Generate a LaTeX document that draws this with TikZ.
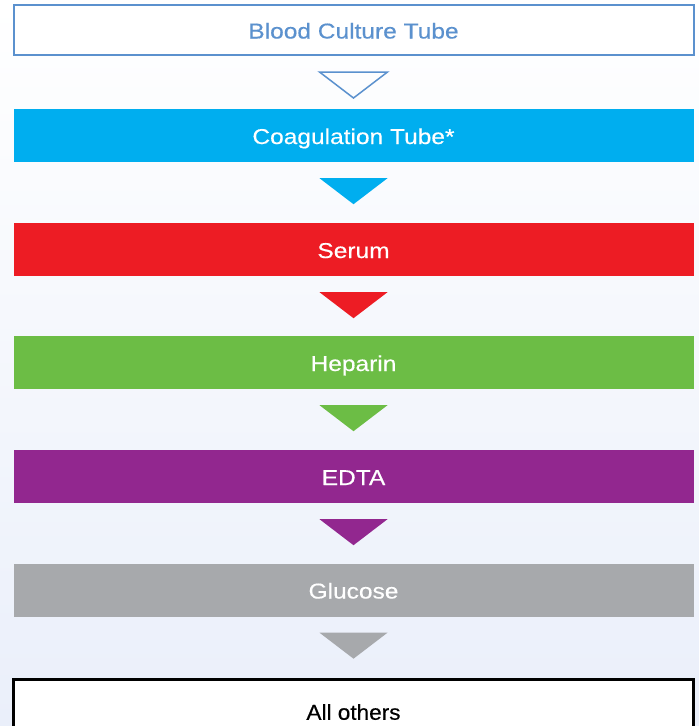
\documentclass[tikz,border=0pt]{standalone}
\usepackage{fontspec}
\setmainfont{Liberation Sans}
\newfontfamily\tubefont[FakeStretch=1.14,FakeBold=0.4]{Liberation Sans}
\newfontfamily\otherfont[FakeStretch=1.05,FakeBold=0.4]{Liberation Sans}
\usetikzlibrary{calc}
\definecolor{bgbot}{RGB}{234,239,250}
\definecolor{bcblue}{RGB}{91,145,206}
\definecolor{tcyan}{RGB}{0,174,239}
\definecolor{tred}{RGB}{237,28,36}
\definecolor{tgreen}{RGB}{108,189,69}
\definecolor{tpurple}{RGB}{146,39,143}
\definecolor{tgray}{RGB}{167,169,172}
\tikzset{
  tube/.style={minimum width=680pt, minimum height=53pt, inner sep=0pt, text=white,
    text height=17pt, text depth=0pt,
    font=\tubefont\fontsize{21.5}{25}\selectfont},
}
\newcommand{\downtri}[3]{%
  \path[#2] ($(#1.south)+(-34,#3)$) -- ++(68,0) -- ++(-34,26) -- cycle;}
\begin{document}
\begin{tikzpicture}[x=1pt,y=-1pt]
\useasboundingbox (0,0) rectangle (699,726);
\shade[top color=white, bottom color=bgbot] (0,0) rectangle (699,726);
\node[tube, draw=bcblue, line width=2pt, fill=white, text=bcblue, minimum height=50pt] (blood) at (353.5,30) {Blood Culture Tube};
\node[tube, fill=tcyan] (coag) at (353.5,135.5) {Coagulation Tube*};
\node[tube, fill=tred] (serum) at (353.5,249.5) {Serum};
\node[tube, fill=tgreen] (hep) at (353.5,362.5) {Heparin};
\node[tube, fill=tpurple] (edta) at (353.5,476.5) {EDTA};
\node[tube, fill=tgray] (gluc) at (353.5,590) {Glucose};
\node[tube, draw=black, line width=2.5pt, fill=white, text=black, minimum height=64pt, anchor=north,
  font=\otherfont\fontsize{21.5}{25}\selectfont] (others) at (353.5,678) {All others};
\downtri{blood}{draw=bcblue, line width=1.5pt, line join=miter}{16}
\downtri{coag}{fill=tcyan}{16}
\downtri{serum}{fill=tred}{16}
\downtri{hep}{fill=tgreen}{16}
\downtri{edta}{fill=tpurple}{16}
\downtri{gluc}{fill=tgray}{16}
\end{tikzpicture}
\end{document}
